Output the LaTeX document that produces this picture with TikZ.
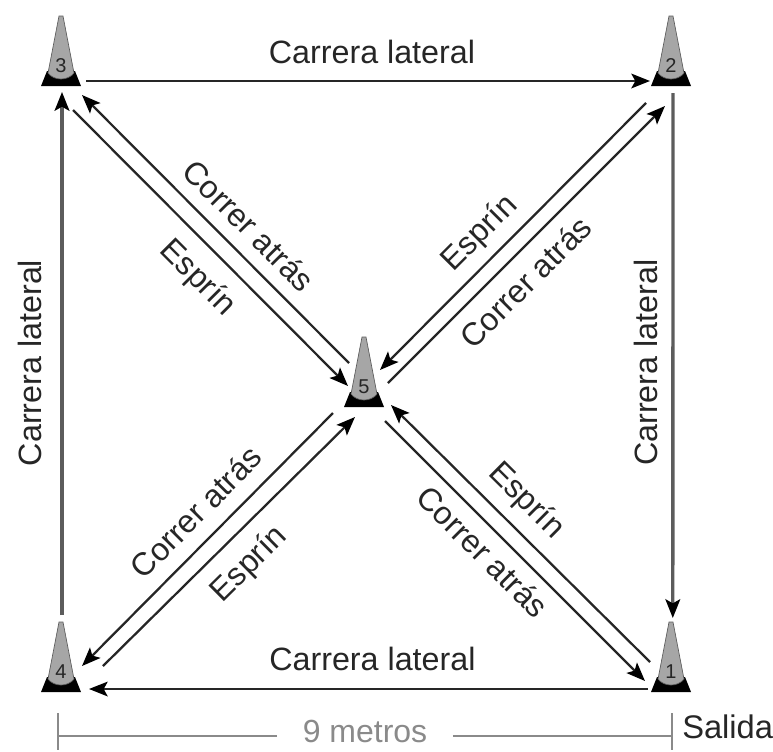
\documentclass[tikz,border=0pt]{standalone}
\usepackage{fontspec}
\setmainfont{Liberation Sans}
\usepackage{xcolor}
\definecolor{clInk}{HTML}{262626}
\definecolor{clCone}{HTML}{A6A6A6}
\definecolor{clRule}{HTML}{5C5C5C}
\definecolor{clDim}{HTML}{8A8A8A}
\usetikzlibrary{arrows.meta,calc}
\tikzset{
  flow/.style={-{Stealth[length=14pt,width=11pt,inset=3pt,black]}, line width=1.7pt, draw=clInk},
  flowgray/.style={flow, line width=2.5pt, draw=clRule},
  flowlabel/.style={font=\fontsize{24}{26}\selectfont, text=clInk, inner sep=0pt, sloped},
  sidelabel/.style={flowlabel, font=\fontsize{24.2}{26}\selectfont},
  conelabel/.style={font=\fontsize{15}{16}\selectfont, text=clInk, inner sep=0pt},
  conebody/.style={fill=clCone, draw=clRule, line width=0.5pt},
  dimline/.style={draw=clDim, line width=1.5pt},
  dimlabel/.style={font=\fontsize{24}{26}\selectfont, text=clDim, inner ysep=0pt, inner xsep=19pt},
}
\begin{document}
\begin{tikzpicture}[x=0.75pt,y=-0.75pt]
  \useasboundingbox (0,0) rectangle (773,751);
  % cones
  \foreach \n/\cx/\cy in {1/671/692,2/671/86,3/61/86,4/61/692,5/364/407} {
    \fill[black] (\cx-20,\cy) -- (\cx+20,\cy) -- (\cx+14,\cy-15) -- (\cx-14,\cy-15) -- cycle;
    \path[conebody] (\cx-2,\cy-70) -- (\cx+2,\cy-70) -- (\cx+13,\cy-13)
      .. controls (\cx+7,\cy-5) and (\cx-7,\cy-5) .. (\cx-13,\cy-13) -- cycle;
    \node[conelabel] (c\n) at (\cx,\cy-20) {\n};
  }
  % sides
  \draw[flow] ($(c3)+(25,15)$) -- node[sidelabel,pos=.507,above=12pt]{Carrera lateral} ($(c2)+(-21,15)$);
  \draw[flowgray] ($(c2)+(2,27)$) -- node[sidelabel,pos=.514,above=10pt]{Carrera lateral} ($(c1)+(1.8,-54)$);
  \draw[flow] ($(c1)+(-23,17)$) -- node[sidelabel,pos=.493,above=13pt]{Carrera lateral} ($(c4)+(28,17)$);
  \draw[flowgray] ($(c4)+(1,-57)$) -- node[sidelabel,pos=.482,above=14pt]{Carrera lateral} ($(c3)+(1,26)$);
  % diagonals
  \draw[flow] ($(c5)+(-15,-24)$) -- node[flowlabel,pos=.444,above=10pt]{Correr atrás} ($(c3)+(21,29)$);
  \draw[flow] ($(c3)+(12,44)$) -- node[flowlabel,pos=.532,below=11pt]{Esprín} ($(c5)+(-16,-1)$);
  \draw[flow] ($(c2)+(-25,37)$) -- node[flowlabel,pos=.556,above=7pt]{Esprín} ($(c5)+(16,-17)$);
  \draw[flow] ($(c5)+(24,-4)$) -- node[flowlabel,pos=.431,below=9.5pt]{Correr atrás} ($(c2)+(-6,40)$);
  \draw[flow] ($(c5)+(-31,26)$) -- node[flowlabel,pos=.468,above=11pt]{Correr atrás} ($(c4)+(21,-6)$);
  \draw[flow] ($(c4)+(42,-6)$) -- node[flowlabel,pos=.496,below=11pt]{Esprín} ($(c5)+(-9,30)$);
  \draw[flow] ($(c1)+(-21,-10)$) -- node[flowlabel,pos=.552,above=8pt]{Esprín} ($(c5)+(27,18)$);
  \draw[flow] ($(c5)+(21,34)$) -- node[flowlabel,pos=.44,below=7.5pt]{Correr atrás} ($(c1)+(-26,9)$);
  % distance
  \node[dimlabel] (metros) at (365,731) {9 metros};
  \node[font=\fontsize{24.5}{26}\selectfont, text=clInk, inner sep=0pt, anchor=west] (salida) at (682,727) {Salida};
  \coordinate (dl) at (58,736);
  \coordinate (dr) at (672,736);
  \draw[dimline] (metros.west |- dl) -- (dl);
  \draw[dimline] (metros.east |- dr) -- (dr);
  \draw[dimline] ($(dl)+(0,-23)$) -- ($(dl)+(0,14)$);
  \draw[dimline] ($(dr)+(0,-23)$) -- ($(dr)+(0,14)$);
\end{tikzpicture}
\end{document}
